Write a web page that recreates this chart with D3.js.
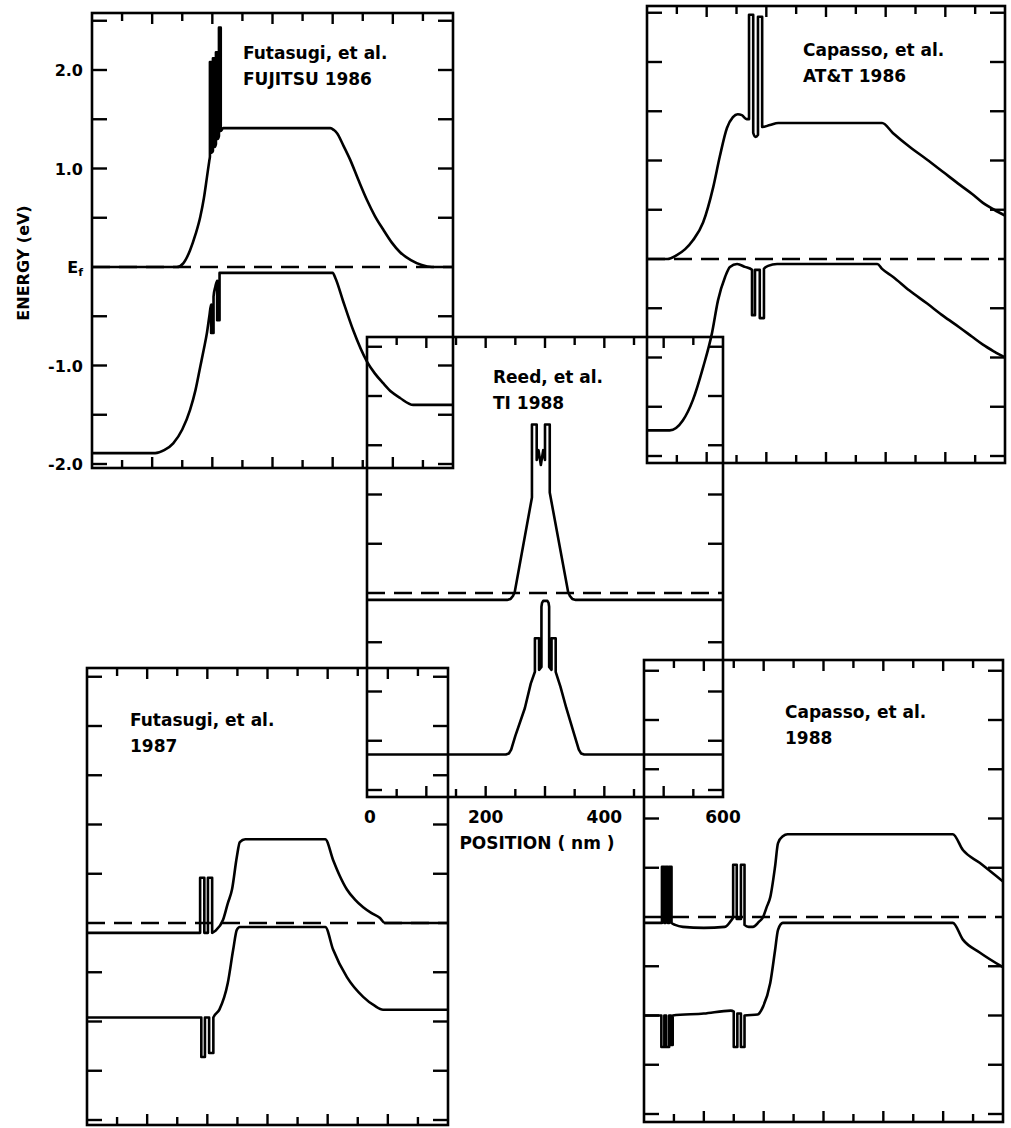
<!DOCTYPE html>
<html>
<head>
<meta charset="utf-8">
<script src="https://cdn.jsdelivr.net/npm/d3@7"></script>
<style>
  body { margin: 0; background: #fff; }
  svg text { font-family: "DejaVu Sans", sans-serif; font-weight: bold; fill: #000; }
</style>
</head>
<body>
<svg id="chart"></svg>
<script>
// axis labels and ticks
const positionTicks = [0, 200, 400, 600];
const energyTicks = [2, 1, 0, -1, -2];
const energyTickLabels = ['2.0', '1.0', 'E', '-1.0', '-2.0'];

// Futasugi, et al. FUJITSU 1986  [position nm, energy eV]
const fujitsuCB = [[0,0],[141,0],[152,0.04],[163,0.17],[172,0.33],[180,0.51],[186,0.7],[191,0.91],[195,1.08],
  [196,1.12],[196,2.08],[199,2.08],[199,1.16],[201,1.18],[201,2.12],[204,2.12],[204,1.22],[206,1.25],[206,2.18],
  [209,2.18],[209,1.3],[211,1.33],[211,2.43],[214,2.43],[214,1.38],[218,1.41],[396,1.41],[402,1.39],[407,1.36],
  [418,1.23],[429,1.09],[443,0.88],[457,0.68],[470,0.52],[484,0.38],[498,0.25],[512,0.15],[530,0.07],[548,0.02],[565,0],[600,0]];
const fujitsuVB = [[0,-1.89],[105,-1.89],[120,-1.86],[135,-1.79],[150,-1.65],[163,-1.45],[172,-1.25],[180,-1.01],
  [186,-0.83],[191,-0.67],[195,-0.5],[198,-0.38],[198,-0.67],[202,-0.67],[202,-0.3],[205,-0.2],[208,-0.14],
  [208,-0.54],[212,-0.54],[212,-0.06],[216,-0.06],[400,-0.06],[405,-0.12],[417,-0.34],[434,-0.64],[457,-0.96],
  [470,-1.08],[484,-1.18],[498,-1.27],[512,-1.33],[534,-1.4],[600,-1.4]];
const fujitsuTitle = ['Futasugi, et al.', 'FUJITSU 1986'];

// Capasso, et al. AT&T 1986
const attCB = [[0,0],[34,0],[50,0.04],[64,0.1],[77,0.19],[94,0.37],[111,0.73],[122,1.04],[134,1.33],[144,1.44],
  [152,1.47],[159,1.46],[167,1.42],[171,1.42],[171,2.48],[178,2.48],[178,1.28],[182,1.24],[186,1.26],[186,2.46],
  [193,2.46],[193,1.34],[206,1.36],[220,1.38],[394,1.38],[412,1.28],[440,1.14],[469,1.01],[497,0.88],[525,0.75],
  [545,0.66],[563,0.57],[582,0.5],[600,0.44]];
const attVB = [[0,-1.74],[38,-1.74],[60,-1.64],[77,-1.43],[94,-1.1],[109,-0.75],[119,-0.42],[131,-0.18],[139,-0.08],
  [151,-0.05],[164,-0.08],[176,-0.11],[176,-0.57],[181,-0.57],[181,-0.11],[189,-0.11],[189,-0.6],[196,-0.6],
  [196,-0.1],[203,-0.07],[218,-0.05],[386,-0.05],[394,-0.1],[412,-0.18],[440,-0.32],[469,-0.45],[497,-0.58],
  [525,-0.7],[545,-0.79],[563,-0.87],[582,-0.94],[600,-1.0]];
const attTitle = ['Capasso, et al.', 'AT&T 1986'];

// Reed, et al. TI 1988
const reedCB = [[0,-0.07],[236,-0.07],[242,-0.06],[246,-0.03],[249,0.01],[278,0.97],[278,1.71],[286,1.71],[286,1.35],
  [289,1.45],[293,1.3],[297,1.45],[300,1.35],[300,1.71],[308,1.71],[308,1.02],[339,0.01],[342,-0.03],[346,-0.06],
  [352,-0.07],[600,-0.07]];
const reedVB = [[0,-1.64],[234,-1.64],[239,-1.63],[243,-1.59],[250,-1.45],[266,-1.17],[276,-0.92],[283,-0.8],
  [283,-0.46],[290,-0.46],[290,-0.78],[294,-0.75],[294,-0.14],[295,-0.1],[297,-0.08],[304,-0.08],[306,-0.1],
  [307,-0.14],[307,-0.75],[311,-0.78],[311,-0.46],[318,-0.46],[318,-0.8],[326,-0.95],[336,-1.17],[350,-1.45],
  [357,-1.59],[361,-1.63],[366,-1.64],[600,-1.64]];
const reedTitle = ['Reed, et al.', 'TI 1988'];

// Futasugi, et al. 1987
const fut87CB = [[0,-0.1],[188,-0.1],[188,0.46],[195,0.46],[195,-0.1],[201,-0.1],[201,0.46],[208,0.46],[208,-0.1],
  [213,-0.08],[226,0.03],[234,0.2],[241,0.34],[249,0.67],[254,0.82],[263,0.85],[396,0.85],[409,0.64],[420,0.48],
  [432,0.34],[445,0.24],[459,0.16],[473,0.1],[487,0.05],[495,0],[600,0]];
const fut87VB = [[0,-0.96],[190,-0.96],[190,-1.36],[196,-1.36],[196,-0.96],[203,-0.96],[203,-1.32],[210,-1.32],
  [210,-0.96],[220,-0.88],[234,-0.61],[243,-0.27],[249,-0.07],[254,-0.04],[396,-0.04],[409,-0.27],[432,-0.55],
  [459,-0.75],[478,-0.84],[492,-0.88],[600,-0.88]];
const fut87Title = ['Futasugi, et al.', '1987'];

// Capasso, et al. 1988
const cap88CB = [[0,-0.06],[30,-0.06],[30,0.51],[34,0.51],[34,-0.06],[36,-0.06],[36,0.51],[40,0.51],[40,-0.06],
  [42,-0.06],[42,0.51],[46,0.51],[46,-0.06],[52,-0.08],[65,-0.1],[100,-0.11],[135,-0.1],[145,-0.04],[149,0],
  [149,0.53],[155,0.53],[155,-0.02],[162,-0.02],[162,0.53],[168,0.53],[168,-0.08],[175,-0.1],[182,-0.1],
  [192,-0.05],[199,0],[205,0.1],[211,0.2],[219,0.51],[224,0.75],[232,0.82],[240,0.84],[516,0.84],[533,0.68],
  [561,0.55],[600,0.36]];
const cap88VB = [[0,-1.0],[29,-1.0],[29,-1.32],[34,-1.32],[34,-1.0],[37,-1.0],[37,-1.32],[42,-1.32],[42,-1.0],
  [45,-1.0],[45,-1.3],[48,-1.3],[48,-1.0],[100,-0.98],[145,-0.95],[150,-0.96],[150,-1.32],[156,-1.32],[156,-0.98],
  [162,-0.98],[162,-1.32],[168,-1.32],[168,-1.0],[190,-0.99],[199,-0.91],[211,-0.67],[219,-0.34],[224,-0.13],
  [232,-0.06],[516,-0.06],[533,-0.23],[561,-0.36],[600,-0.51]];
const cap88Title = ['Capasso, et al.', '1988'];

// panel boxes on the page
const panels = [
  { x: 92,  y: 13,  w: 361, h: 455, ef: 267, cb: fujitsuCB, vb: fujitsuVB, title: fujitsuTitle, tx: 243, ty: 59,  curve: d3.curveMonotoneX },
  { x: 647, y: 6,   w: 358, h: 457, ef: 259, cb: attCB,     vb: attVB,     title: attTitle,     tx: 803, ty: 56,  curve: d3.curveMonotoneX },
  { x: 87,  y: 668, w: 361, h: 457, ef: 923, cb: fut87CB,   vb: fut87VB,   title: fut87Title,   tx: 130, ty: 726, curve: d3.curveMonotoneX },
  { x: 644, y: 660, w: 359, h: 462, ef: 917, cb: cap88CB,   vb: cap88VB,   title: cap88Title,   tx: 785, ty: 718, curve: d3.curveMonotoneX },
  { x: 367, y: 337, w: 356, h: 460, ef: 593, cb: reedCB,    vb: reedVB,    title: reedTitle,    tx: 493, ty: 383, curve: d3.curveLinear }
];
const pxPerEv = 98.5;

const svg = d3.select('#chart')
  .attr('width', 1011)
  .attr('height', 1128)
  .style('background', '#fff');

let centerX = null;

panels.forEach((p, i) => {
  const x = d3.scaleLinear().domain([0, 600]).range([p.x, p.x + p.w]);
  const y = d3.scaleLinear()
    .domain([-(p.y + p.h - p.ef) / pxPerEv, (p.ef - p.y) / pxPerEv])
    .range([p.y + p.h, p.y]);
  if (i === 4) centerX = x;
  if (i === 0) p.yScale = y;

  const g = svg.append('g');

  g.append('rect')
    .attr('x', p.x).attr('y', p.y)
    .attr('width', p.w).attr('height', p.h)
    .attr('fill', 'none')
    .attr('stroke', '#000')
    .attr('stroke-width', 2.6);

  // position ticks, top and bottom, pointing inward
  const xt = d3.range(50, 600, 50);
  g.selectAll('.xtb').data(xt).join('line')
    .attr('x1', d => x(d)).attr('x2', d => x(d))
    .attr('y1', p.y + p.h).attr('y2', d => p.y + p.h - (d % 100 === 0 ? 11 : 8))
    .attr('stroke', '#000').attr('stroke-width', 2.4);
  g.selectAll('.xtt').data(xt).join('line')
    .attr('x1', d => x(d)).attr('x2', d => x(d))
    .attr('y1', p.y).attr('y2', d => p.y + (d % 100 === 0 ? 11 : 8))
    .attr('stroke', '#000').attr('stroke-width', 2.4);

  // energy ticks every 0.5 eV, both sides
  const yt = d3.range(-2, 2.51, 0.5).filter(d => d !== 0 && y(d) > p.y + 4 && y(d) < p.y + p.h - 4);
  g.selectAll('.ytl').data(yt).join('line')
    .attr('x1', p.x).attr('x2', p.x + 15)
    .attr('y1', d => y(d)).attr('y2', d => y(d))
    .attr('stroke', '#000').attr('stroke-width', 2.4);
  g.selectAll('.ytr').data(yt).join('line')
    .attr('x1', p.x + p.w).attr('x2', p.x + p.w - 15)
    .attr('y1', d => y(d)).attr('y2', d => y(d))
    .attr('stroke', '#000').attr('stroke-width', 2.4);

  // Fermi level
  g.append('line')
    .attr('x1', x(0)).attr('x2', x(600))
    .attr('y1', y(0)).attr('y2', y(0))
    .attr('stroke', '#000').attr('stroke-width', 2.4)
    .attr('stroke-dasharray', '18,9');

  const line = d3.line()
    .x(d => x(d[0]))
    .y(d => y(d[1]))
    .curve(p.curve);
  [p.cb, p.vb].forEach(band => {
    g.append('path')
      .attr('d', line(band))
      .attr('fill', 'none')
      .attr('stroke', '#000')
      .attr('stroke-width', 2.6)
      .attr('stroke-linejoin', 'round');
  });

  g.selectAll('.title').data(p.title).join('text')
    .attr('x', p.tx)
    .attr('y', (d, k) => p.ty + k * 26)
    .style('font-size', '17px')
    .text(d => d);
});

// energy labels on the first panel
const yA = panels[0].yScale;
const labels = svg.selectAll('.elab').data(energyTicks).join('text')
  .attr('x', 83)
  .attr('y', d => yA(d) + 6)
  .attr('text-anchor', 'end')
  .style('font-size', '16px');
labels.text((d, k) => energyTickLabels[k]);
labels.filter(d => d === 0)
  .append('tspan')
  .attr('dy', 3)
  .style('font-size', '11px')
  .text('f');

svg.append('text')
  .attr('transform', `translate(29, ${yA(0) - 4}) rotate(-90)`)
  .attr('text-anchor', 'middle')
  .style('font-size', '16px')
  .text('ENERGY (eV)');

// position labels below the centre panel
svg.selectAll('.plab').data(positionTicks).join('text')
  .attr('x', d => centerX(d) + (d === 0 ? 3 : 0))
  .attr('y', 823)
  .attr('text-anchor', 'middle')
  .style('font-size', '17px')
  .text(d => d);

svg.append('text')
  .attr('x', 537)
  .attr('y', 849)
  .attr('text-anchor', 'middle')
  .style('font-size', '17px')
  .text('POSITION ( nm )');
</script>
</body>
</html>
